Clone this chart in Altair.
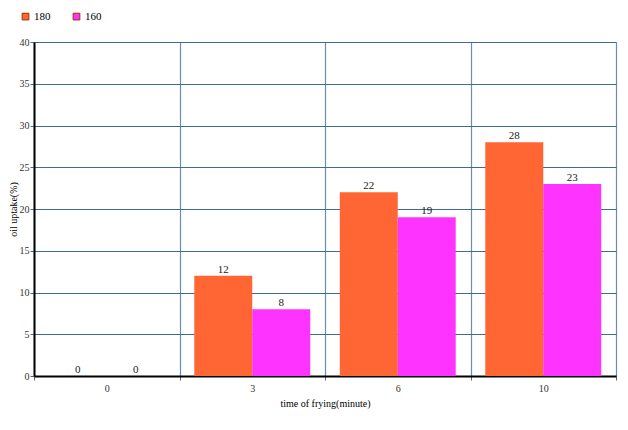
import altair as alt
import pandas as pd

times = ["0", "3", "6", "10"]
series = ["180", "160"]
vals_180 = [0, 12, 22, 28]
vals_160 = [0, 8, 19, 23]
colors = ["#FF6633", "#FF33FF"]

rows = []
for t, a, b in zip(times, vals_180, vals_160):
    rows.append({"time": t, "temp": "180", "uptake": a})
    rows.append({"time": t, "temp": "160", "uptake": b})
df = pd.DataFrame(rows)

FONT = "Liberation Serif"

x = alt.X("time:N", sort=times, title="time of frying(minute)",
          scale=alt.Scale(paddingInner=0, paddingOuter=0),
          axis=alt.Axis(labelAngle=0, tickBand="extent", grid=True,
                        gridColor="#6E8CB0", gridWidth=1.2,
                        domainColor="#000000", domainWidth=2,
                        tickColor="#666666", tickSize=4,
                        labelFont=FONT, labelFontSize=10, labelColor="#333333",
                        titleFont=FONT, titleFontSize=10, titleFontWeight="normal",
                        titleColor="#000000", labelPadding=3, titlePadding=5))
xo = alt.XOffset("temp:N", sort=series,
                 scale=alt.Scale(paddingInner=0, paddingOuter=0.255))
y = alt.Y("uptake:Q", title="oil uptake(%)",
          scale=alt.Scale(domain=[0, 40], nice=False),
          axis=alt.Axis(values=list(range(0, 41, 5)), grid=True,
                        gridColor="#3E6A96", gridWidth=1.2,
                        domainColor="#000000", domainWidth=2,
                        tickColor="#666666", tickSize=4,
                        labelFont=FONT, labelFontSize=10, labelColor="#333333",
                        titleFont=FONT, titleFontSize=10, titleFontWeight="normal",
                        titleColor="#000000", labelPadding=1,
                        titleX=-16, titleY=167, titleAngle=-90,
                        titleBaseline="bottom", titleAlign="center"))
color = alt.Color("temp:N", sort=series,
                  scale=alt.Scale(domain=series, range=colors),
                  legend=alt.Legend(title=None, orient="none", legendX=-14, legendY=-31,
                                    direction="horizontal", symbolType="square",
                                    symbolSize=45, symbolStrokeWidth=1,
                                    symbolStrokeColor="#993300",
                                    labelFont=FONT, labelFontSize=11,
                                    labelColor="#000000", columnPadding=20,
                                    labelOffset=3))

bars = alt.Chart(df).mark_bar(strokeWidth=0).encode(
    x=x, xOffset=xo, y=y, color=color)

labels = alt.Chart(df).mark_text(dy=-6, font=FONT, fontSize=11, color="#222222").encode(
    x=alt.X("time:N", sort=times), xOffset=alt.XOffset("temp:N", sort=series),
    y="uptake:Q", text="uptake:Q")

chart = alt.layer(bars, labels).properties(
    width=582, height=334,
    autosize=alt.AutoSizeParams(type="none"),
    padding={"left": 26, "top": 34, "right": 4, "bottom": 40},
).configure_view(stroke=None).configure(background="#FFFFFF")

chart.save("out.html", embed_options={"renderer": "svg", "actions": False})
